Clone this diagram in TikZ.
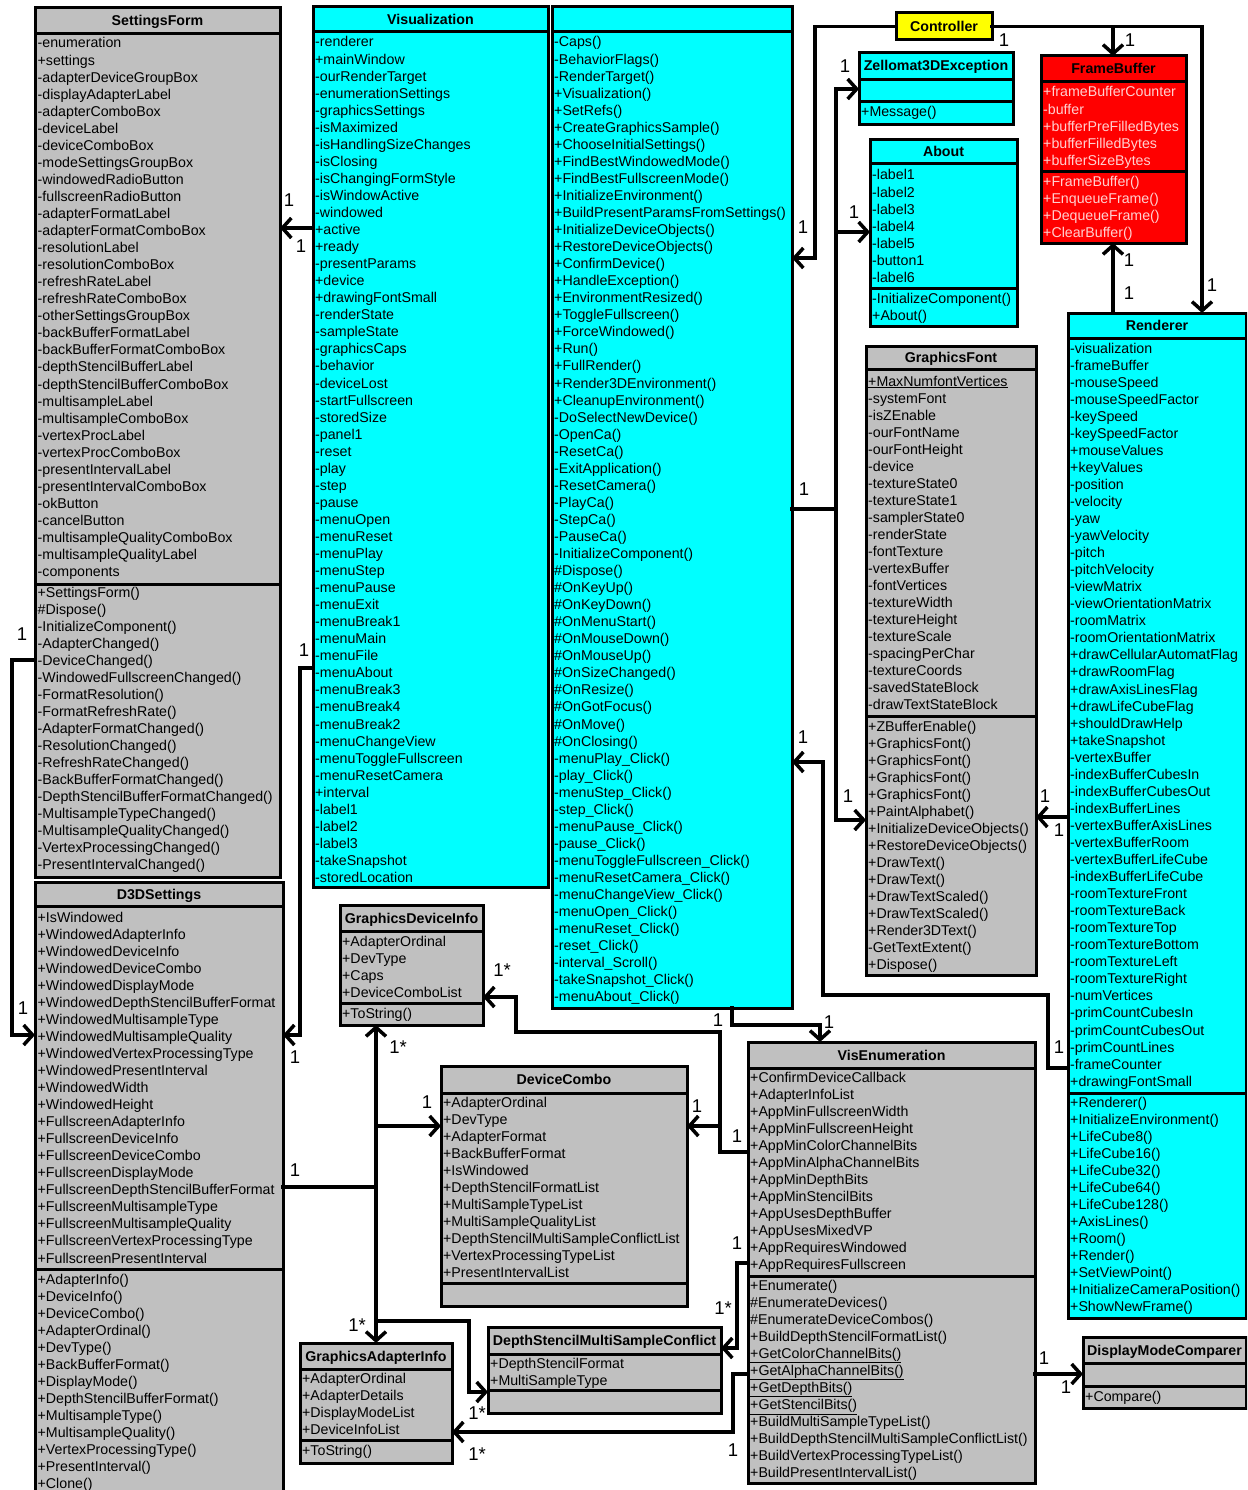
\documentclass[tikz,border=0pt]{standalone}
\usepackage{fontspec}
\setmainfont{Liberation Sans}
\usetikzlibrary{arrows.meta}

\definecolor{umlcyan}{HTML}{00FFFF}
\definecolor{umlgray}{HTML}{C0C0C0}
\definecolor{umlred}{HTML}{FF0000}
\definecolor{umlyellow}{HTML}{FFFF00}
\definecolor{rowpink}{HTML}{FFD0D0}

\newcommand\rowfont{\fontsize{14.2}{17}\selectfont}
\newcommand\titlefont{\fontsize{14.2}{17}\selectfont\bfseries}
\newcommand\multfont{\fontsize{18.5}{20}\selectfont}

% a class rectangle: name, fill, left, top, right, bottom
\newcommand\classbox[6]{%
  \node[box, fill=#2, minimum width={#5-#3}, minimum height={#6-#4}] (#1) at (#3,#4) {};}
% a compartment separator across box #1 at height #2
\newcommand\hsep[2]{\draw[sepline] (#1.west |- 0,#2) -- (#1.east |- 0,#2);}
% class title: name, centre x, centre y, text
\newcommand\classtitle[4]{\node[titletext] (#1) at (#2,{#3+5}) {#4};}
% member rows: prefix, x, centre y of first row, list
\newcommand\classrows[4]{%
  \foreach \t [count=\i from 0] in {#4}{%
    \node[row] (#1\i) at (#2,{#3+\i*17.05+5}) {\t};
  }}

\begin{document}
\begin{tikzpicture}[x=1pt,y=-1pt,
  box/.style={draw=black, line width=3pt, anchor=north west, inner sep=0pt, outer sep=0pt},
  sepline/.style={line width=3pt},
  row/.style={anchor=base west, inner sep=0pt, font=\rowfont},
  titletext/.style={anchor=base, inner sep=0pt, font=\titlefont},
  link/.style={line width=3.5pt, line cap=rect, -{Straight Barb[length=9pt,width=20pt]}},
  plain/.style={line width=3.5pt, line cap=rect},
  mult/.style={inner sep=0pt, font=\multfont}]

\fill[white] (0,0) rectangle (1247,1490);
\clip (0,0) rectangle (1247,1490);

% ---------------- SettingsForm ----------------
\classbox{sf}{umlgray}{35}{8}{280}{877}
\hsep{sf}{34}\hsep{sf}{584}
\classtitle{sft}{157.5}{21}{SettingsForm}
\classrows{sfa}{37.5}{43}{-enumeration,+settings,-adapterDeviceGroupBox,-displayAdapterLabel,-adapterComboBox,-deviceLabel,-deviceComboBox,-modeSettingsGroupBox,-windowedRadioButton,-fullscreenRadioButton,-adapterFormatLabel,-adapterFormatComboBox,-resolutionLabel,-resolutionComboBox,-refreshRateLabel,-refreshRateComboBox,-otherSettingsGroupBox,-backBufferFormatLabel,-backBufferFormatComboBox,-depthStencilBufferLabel,-depthStencilBufferComboBox,-multisampleLabel,-multisampleComboBox,-vertexProcLabel,-vertexProcComboBox,-presentIntervalLabel,-presentIntervalComboBox,-okButton,-cancelButton,-multisampleQualityComboBox,-multisampleQualityLabel,-components}
\classrows{sfm}{37.5}{592}{+SettingsForm(),\#Dispose(),-InitializeComponent(),-AdapterChanged(),-DeviceChanged(),-WindowedFullscreenChanged(),-FormatResolution(),-FormatRefreshRate(),-AdapterFormatChanged(),-ResolutionChanged(),-RefreshRateChanged(),-BackBufferFormatChanged(),-DepthStencilBufferFormatChanged(),-MultisampleTypeChanged(),-MultisampleQualityChanged(),-VertexProcessingChanged(),-PresentIntervalChanged()}

% ---------------- D3DSettings ----------------
\classbox{d3d}{umlgray}{35}{882}{283}{1500}
\hsep{d3d}{906}\hsep{d3d}{1269}
\classtitle{d3dt}{159}{894}{D3DSettings}
\classrows{d3da}{37.5}{917}{+IsWindowed,+WindowedAdapterInfo,+WindowedDeviceInfo,+WindowedDeviceCombo,+WindowedDisplayMode,+WindowedDepthStencilBufferFormat,+WindowedMultisampleType,+WindowedMultisampleQuality,+WindowedVertexProcessingType,+WindowedPresentInterval,+WindowedWidth,+WindowedHeight,+FullscreenAdapterInfo,+FullscreenDeviceInfo,+FullscreenDeviceCombo,+FullscreenDisplayMode,+FullscreenDepthStencilBufferFormat,+FullscreenMultisampleType,+FullscreenMultisampleQuality,+FullscreenVertexProcessingType,+FullscreenPresentInterval}
\classrows{d3dm}{37.5}{1279}{+AdapterInfo(),+DeviceInfo(),+DeviceCombo(),+AdapterOrdinal(),+DevType(),+BackBufferFormat(),+DisplayMode(),+DepthStencilBufferFormat(),+MultisampleType(),+MultisampleQuality(),+VertexProcessingType(),+PresentInterval(),+Clone()}

% ---------------- Visualization (fields / operations) ----------------
\classbox{visA}{umlcyan}{313}{7}{548}{887}
\hsep{visA}{32}
\classtitle{visAt}{430.5}{19.5}{Visualization}
\classrows{visa}{315}{42}{-renderer,+mainWindow,-ourRenderTarget,-enumerationSettings,-graphicsSettings,-isMaximized,-isHandlingSizeChanges,-isClosing,-isChangingFormStyle,-isWindowActive,-windowed,+active,+ready,-presentParams,+device,+drawingFontSmall,-renderState,-sampleState,-graphicsCaps,-behavior,-deviceLost,-startFullscreen,-storedSize,-panel1,-reset,-play,-step,-pause,-menuOpen,-menuReset,-menuPlay,-menuStep,-menuPause,-menuExit,-menuBreak1,-menuMain,-menuFile,-menuAbout,-menuBreak3,-menuBreak4,-menuBreak2,-menuChangeView,-menuToggleFullscreen,-menuResetCamera,+interval,-label1,-label2,-label3,-takeSnapshot,-storedLocation}

\classbox{visM}{umlcyan}{552}{7}{792}{1008}
\hsep{visM}{32}
\classrows{vism}{554}{42}{-Caps(),-BehaviorFlags(),-RenderTarget(),+Visualization(),+SetRefs(),+CreateGraphicsSample(),+ChooseInitialSettings(),+FindBestWindowedMode(),+FindBestFullscreenMode(),+InitializeEnvironment(),+BuildPresentParamsFromSettings(),+InitializeDeviceObjects(),+RestoreDeviceObjects(),+ConfirmDevice(),+HandleException(),+EnvironmentResized(),+ToggleFullscreen(),+ForceWindowed(),+Run(),+FullRender(),+Render3DEnvironment(),+CleanupEnvironment(),-DoSelectNewDevice(),-OpenCa(),-ResetCa(),-ExitApplication(),-ResetCamera(),-PlayCa(),-StepCa(),-PauseCa(),-InitializeComponent(),\#Dispose(),\#OnKeyUp(),\#OnKeyDown(),\#OnMenuStart(),\#OnMouseDown(),\#OnMouseUp(),\#OnSizeChanged(),\#OnResize(),\#OnGotFocus(),\#OnMove(),\#OnClosing(),-menuPlay\_Click(),-play\_Click(),-menuStep\_Click(),-step\_Click(),-menuPause\_Click(),-pause\_Click(),-menuToggleFullscreen\_Click(),-menuResetCamera\_Click(),-menuChangeView\_Click(),-menuOpen\_Click(),-menuReset\_Click(),-reset\_Click(),-interval\_Scroll(),-takeSnapshot\_Click(),-menuAbout\_Click()}

% ---------------- Controller ----------------
\classbox{ctl}{umlyellow}{896}{13}{992}{40}
\classtitle{ctlt}{944}{26.5}{Controller}

% ---------------- Zellomat3DException ----------------
\classbox{zex}{umlcyan}{859}{53}{1013}{125}
\hsep{zex}{80}\hsep{zex}{102}
\classtitle{zext}{936}{66}{Zellomat3DException}
\classrows{zexm}{861}{112}{+Message()}

% ---------------- About ----------------
\classbox{about}{umlcyan}{870}{140}{1017}{326}
\hsep{about}{164}\hsep{about}{288}
\classtitle{aboutt}{943.5}{152}{About}
\classrows{abouta}{872}{175}{-label1,-label2,-label3,-label4,-label5,-button1,-label6}
\classrows{aboutm}{872}{298}{-InitializeComponent(),+About()}

% ---------------- FrameBuffer ----------------
\classbox{fb}{umlred}{1041}{56}{1186}{243}
\hsep{fb}{82}\hsep{fb}{172}
\classtitle{fbt}{1113.5}{69}{FrameBuffer}
\begin{scope}[row/.append style={text=rowpink}]
\classrows{fba}{1043}{92}{+frameBufferCounter,-buffer,+bufferPreFilledBytes,+bufferFilledBytes,+bufferSizeBytes}
\classrows{fbm}{1043}{181}{+FrameBuffer(),+EnqueueFrame(),+DequeueFrame(),+ClearBuffer()}
\end{scope}

% ---------------- Renderer ----------------
\classbox{ren}{umlcyan}{1068}{313}{1246}{1318}
\hsep{ren}{338}\hsep{ren}{1093}
\classtitle{rent}{1157}{325}{Renderer}
\classrows{rena}{1070}{348}{-visualization,-frameBuffer,-mouseSpeed,-mouseSpeedFactor,-keySpeed,-keySpeedFactor,+mouseValues,+keyValues,-position,-velocity,-yaw,-yawVelocity,-pitch,-pitchVelocity,-viewMatrix,-viewOrientationMatrix,-roomMatrix,-roomOrientationMatrix,+drawCellularAutomatFlag,+drawRoomFlag,+drawAxisLinesFlag,+drawLifeCubeFlag,+shouldDrawHelp,+takeSnapshot,-vertexBuffer,-indexBufferCubesIn,-indexBufferCubesOut,-indexBufferLines,-vertexBufferAxisLines,-vertexBufferRoom,-vertexBufferLifeCube,-indexBufferLifeCube,-roomTextureFront,-roomTextureBack,-roomTextureTop,-roomTextureBottom,-roomTextureLeft,-roomTextureRight,-numVertices,-primCountCubesIn,-primCountCubesOut,-primCountLines,-frameCounter,+drawingFontSmall}
\classrows{renm}{1070}{1102}{+Renderer(),+InitializeEnvironment(),+LifeCube8(),+LifeCube16(),+LifeCube32(),+LifeCube64(),+LifeCube128(),+AxisLines(),+Room(),+Render(),+SetViewPoint(),+InitializeCameraPosition(),+ShowNewFrame()}

% ---------------- GraphicsFont ----------------
\classbox{gf}{umlgray}{866}{346}{1036}{975}
\hsep{gf}{369}\hsep{gf}{716}
\classtitle{gft}{951}{357}{GraphicsFont}
\classrows{gfa}{868}{381}{\underline{+MaxNumfontVertices},-systemFont,-isZEnable,-ourFontName,-ourFontHeight,-device,-textureState0,-textureState1,-samplerState0,-renderState,-fontTexture,-vertexBuffer,-fontVertices,-textureWidth,-textureHeight,-textureScale,-spacingPerChar,-textureCoords,-savedStateBlock,-drawTextStateBlock}
\classrows{gfm}{868}{726}{+ZBufferEnable(),+GraphicsFont(),+GraphicsFont(),+GraphicsFont(),+GraphicsFont(),+PaintAlphabet(),+InitializeDeviceObjects(),+RestoreDeviceObjects(),+DrawText(),+DrawText(),+DrawTextScaled(),+DrawTextScaled(),+Render3DText(),-GetTextExtent(),+Dispose()}

% ---------------- GraphicsDeviceInfo ----------------
\classbox{gdi}{umlgray}{340}{905}{483}{1025}
\hsep{gdi}{931}\hsep{gdi}{1003}
\classtitle{gdit}{411.5}{918}{GraphicsDeviceInfo}
\classrows{gdia}{342}{941}{+AdapterOrdinal,+DevType,+Caps,+DeviceComboList}
\classrows{gdim}{342}{1013}{+ToString()}

% ---------------- DeviceCombo ----------------
\classbox{dc}{umlgray}{441}{1066}{687}{1306}
\hsep{dc}{1093}\hsep{dc}{1283}
\classtitle{dct}{564}{1079}{DeviceCombo}
\classrows{dca}{443}{1102}{+AdapterOrdinal,+DevType,+AdapterFormat,+BackBufferFormat,+IsWindowed,+DepthStencilFormatList,+MultiSampleTypeList,+MultiSampleQualityList,+DepthStencilMultiSampleConflictList,+VertexProcessingTypeList,+PresentIntervalList}

% ---------------- GraphicsAdapterInfo ----------------
\classbox{gai}{umlgray}{300}{1343}{452}{1463}
\hsep{gai}{1369}\hsep{gai}{1440}
\classtitle{gait}{376}{1356}{GraphicsAdapterInfo}
\classrows{gaia}{302}{1378}{+AdapterOrdinal,+AdapterDetails,+DisplayModeList,+DeviceInfoList}
\classrows{gaim}{302}{1450}{+ToString()}

% ---------------- DepthStencilMultiSampleConflict ----------------
\classbox{dsm}{umlgray}{488}{1327}{721}{1413}
\hsep{dsm}{1354}\hsep{dsm}{1390}
\classtitle{dsmt}{604.5}{1340}{DepthStencilMultiSampleConflict}
\classrows{dsma}{490}{1363}{+DepthStencilFormat,+MultiSampleType}

% ---------------- VisEnumeration ----------------
\classbox{ve}{umlgray}{748}{1042}{1035}{1483}
\hsep{ve}{1068}\hsep{ve}{1276}
\classtitle{vet}{891.5}{1055}{VisEnumeration}
\classrows{vea}{750}{1077}{+ConfirmDeviceCallback,+AdapterInfoList,+AppMinFullscreenWidth,+AppMinFullscreenHeight,+AppMinColorChannelBits,+AppMinAlphaChannelBits,+AppMinDepthBits,+AppMinStencilBits,+AppUsesDepthBuffer,+AppUsesMixedVP,+AppRequiresWindowed,+AppRequiresFullscreen}
\classrows{vem}{750}{1285}{+Enumerate(),\#EnumerateDevices(),\#EnumerateDeviceCombos(),+BuildDepthStencilFormatList(),\underline{+GetColorChannelBits()},\underline{+GetAlphaChannelBits()},\underline{+GetDepthBits()},\underline{+GetStencilBits()},+BuildMultiSampleTypeList(),+BuildDepthStencilMultiSampleConflictList(),+BuildVertexProcessingTypeList(),+BuildPresentIntervalList()}

% ---------------- DisplayModeComparer ----------------
\classbox{dmc}{umlgray}{1083}{1337}{1246}{1408}
\hsep{dmc}{1363}\hsep{dmc}{1386}
\classtitle{dmct}{1164.5}{1350}{DisplayModeComparer}
\classrows{dmcm}{1085}{1396}{+Compare()}

% ---------------- associations ----------------
% Visualization -> SettingsForm
\draw[link] (visA.west |- 0,228) -- (sf.east |- 0,228);
% Visualization -> D3DSettings
\draw[link] (visA.west |- 0,668) -- (300,668) -- (300,1035) -- (d3d.east |- 0,1035);
% SettingsForm -> D3DSettings
\draw[link] (sf.west |- 0,660) -- (12,660) -- (12,1035) -- (d3d.west |- 0,1035);
% D3DSettings -> device / adapter information
\draw[plain] (d3d.east |- 0,1187) -- (376,1187);
\draw[link] (376,1187) -- (gdi.south -| 376,0);
\draw[link] (376,1187) -- (gai.north -| 376,0);
\draw[link] (376,1126) -- (dc.west |- 0,1126);
\draw[link] (376,1321) -- (469,1321) -- (469,1392) -- (dsm.west |- 0,1392);
% VisEnumeration -> GraphicsDeviceInfo, DeviceCombo
\draw[link] (ve.west |- 0,1152) -- (720,1152) -- (720,1032) -- (516,1032) -- (516,997) -- (gdi.east |- 0,997);
\draw[link] (720,1126) -- (dc.east |- 0,1126);
% Visualization -> VisEnumeration
\draw[link] (visM.south -| 732,0) -- (732,1025) -- (820,1025) -- (ve.north -| 820,0);
% VisEnumeration -> DepthStencilMultiSampleConflict
\draw[link] (ve.west |- 0,1263) -- (737,1263) -- (737,1348) -- (dsm.east |- 0,1348);
% VisEnumeration -> GraphicsAdapterInfo
\draw[link] (ve.west |- 0,1374) -- (733,1374) -- (733,1432) -- (gai.east |- 0,1432);
% VisEnumeration -> DisplayModeComparer
\draw[link] (ve.east |- 0,1374) -- (dmc.west |- 0,1374);
% Controller -> Visualization, FrameBuffer, Renderer
\draw[link] (ctl.west) -- (815,26.5) -- (815,258) -- (visM.east |- 0,258);
\draw[link] (ctl.east) -| (ren.north -| 1202,0);
\draw[link] (1113,26.5) -- (fb.north -| 1113,0);
% Visualization -> exception, About, GraphicsFont
\draw[plain] (visM.east |- 0,509) -- (836,509);
\draw[plain] (836,89) -- (836,820);
\draw[link] (836,89) -- (zex.west |- 0,89);
\draw[link] (836,232) -- (about.west |- 0,232);
\draw[link] (836,820) -- (gf.west |- 0,820);
% Renderer -> Visualization
\draw[link] (ren.west |- 0,1068) -- (1048,1068) -- (1048,995) -- (823,995) -- (823,762) -- (visM.east |- 0,762);
% Renderer -> GraphicsFont
\draw[link] (ren.west |- 0,817) -- (gf.east |- 0,817);
% Renderer -> FrameBuffer
\draw[link] (ren.north -| 1113,0) -- (fb.south -| 1113,0);

% ---------------- multiplicities ----------------
\node[mult] (m1) at (289,200) {1};
\node[mult] (m2) at (301,246) {1};
\node[mult] (m3) at (304,650) {1};
\node[mult] (m4) at (295,1057) {1};
\node[mult] (m5) at (22,634) {1};
\node[mult] (m6) at (23,1008) {1};
\node[mult] (m7) at (295,1170) {1};
\node[mult] (m8) at (398,1047) {1*};
\node[mult] (m9) at (427,1102) {1};
\node[mult] (m10) at (357,1325) {1*};
\node[mult] (m11) at (477,1413) {1*};
\node[mult] (m12) at (502,970) {1*};
\node[mult] (m13) at (697,1106) {1};
\node[mult] (m14) at (737,1136) {1};
\node[mult] (m15) at (718,1020) {1};
\node[mult] (m16) at (829,1022) {1};
\node[mult] (m17) at (737,1243) {1};
\node[mult] (m18) at (723,1308) {1*};
\node[mult] (m19) at (733,1450) {1};
\node[mult] (m20) at (477,1454) {1*};
\node[mult] (m21) at (1044,1358) {1};
\node[mult] (m22) at (1066,1387) {1};
\node[mult] (m23) at (1004,40) {1};
\node[mult] (m24) at (803,227) {1};
\node[mult] (m25) at (1130,40) {1};
\node[mult] (m26) at (1212,285) {1};
\node[mult] (m27) at (804,489) {1};
\node[mult] (m28) at (845,66) {1};
\node[mult] (m29) at (854,212) {1};
\node[mult] (m30) at (848,796) {1};
\node[mult] (m31) at (803,737) {1};
\node[mult] (m32) at (1059,1047) {1};
\node[mult] (m33) at (1045,796) {1};
\node[mult] (m34) at (1059,830) {1};
\node[mult] (m35) at (1129,260) {1};
\node[mult] (m36) at (1129,293) {1};
\end{tikzpicture}
\end{document}
